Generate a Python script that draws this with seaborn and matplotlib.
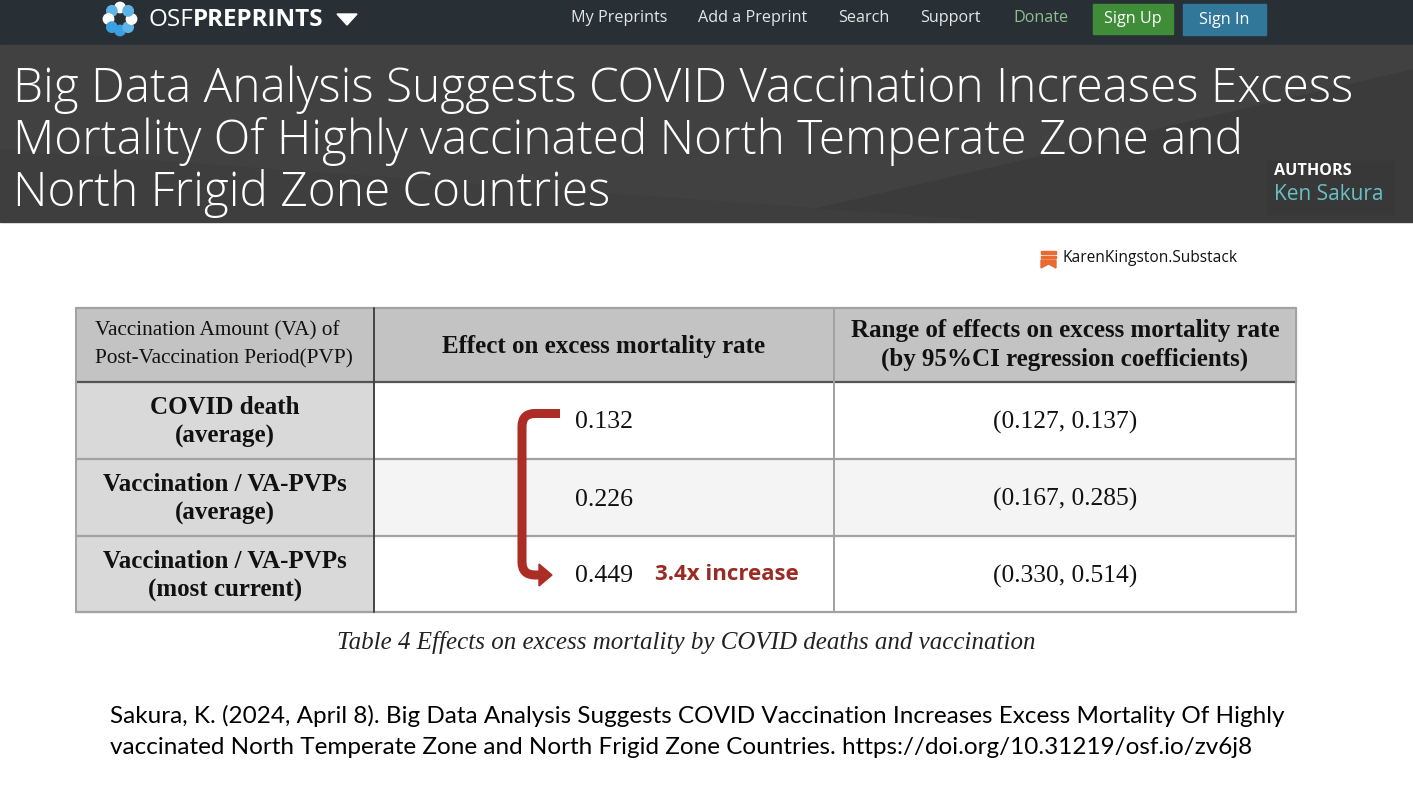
import matplotlib
matplotlib.use("Agg")
import matplotlib.pyplot as plt
import seaborn as sns
import numpy as np
from matplotlib.patches import Rectangle, Circle, Polygon, PathPatch
from matplotlib.path import Path

# ---------------- data ----------------
page_title = ["Big Data Analysis Suggests COVID Vaccination Increases Excess",
              "Mortality Of Highly vaccinated North Temperate Zone and",
              "North Frigid Zone Countries"]
nav_items = ["My Preprints", "Add a Preprint", "Search", "Support", "Donate"]
author = "Ken Sakura"
header_col1 = ["Vaccination Amount (VA) of", "Post-Vaccination Period(PVP)"]
header_col2 = ["Effect on excess mortality rate"]
header_col3 = ["Range of effects on excess mortality rate", "(by 95%CI regression coefficients)"]
row_labels = [["COVID death", "(average)"],
              ["Vaccination / VA-PVPs", "(average)"],
              ["Vaccination / VA-PVPs", "(most current)"]]
effects = [0.132, 0.226, 0.449]
ci_low = [0.127, 0.167, 0.330]
ci_high = [0.137, 0.285, 0.514]
increase_label = "3.4x increase"
caption = "Table 4 Effects on excess mortality by COVID deaths and vaccination"
citation = ["Sakura, K. (2024, April 8). Big Data Analysis Suggests COVID Vaccination Increases Excess Mortality Of Highly",
            "vaccinated North Temperate Zone and North Frigid Zone Countries. https://doi.org/10.31219/osf.io/zv6j8"]
watermark = "KarenKingston.Substack"

# ---------------- layout ----------------
sns.set_theme(style="white")
W, H = 1413, 793
fig = plt.figure(figsize=(W / 100, H / 100), dpi=100)
ax = fig.add_axes([0, 0, 1, 1])
ax.set_xlim(0, W)
ax.set_ylim(H, 0)
ax.axis("off")
sns.despine(ax=ax, left=True, bottom=True)
renderer = fig.canvas.get_renderer()

SANS = "Open Sans"
SERIF = "Liberation Serif"

# nav bar
ax.add_patch(Rectangle((0, 0), W, 45, color="#283036", zorder=1))
# header band
ax.add_patch(Rectangle((0, 45), W, 177, color="#414141", zorder=1))
ax.add_patch(Polygon([(760, 222), (1413, 70), (1413, 222)], closed=True,
                     color="#3b3b3b", zorder=1.1))
ax.add_patch(Polygon([(0, 222), (0, 150), (1000, 222)], closed=True,
                     color="#3e3e3e", zorder=1.1))

# OSF logo
cx, cy = 120, 19
for k in range(8):
    a = np.pi / 2 + k * np.pi / 4
    col = "#ffffff" if k % 2 == 0 else "#5fb3e6"
    if k in (3, 4):
        col = "#3aa0e0"
    ax.add_patch(Circle((cx + 11.5 * np.cos(a), cy - 11.5 * np.sin(a)), 5.2,
                        color=col, zorder=3))
t_osf = ax.text(148, 20, "OSF", color="white", fontsize=17.5, family=SANS,
                va="center", ha="left", zorder=4)
bb = t_osf.get_window_extent(renderer)
ax.text(148 + bb.width, 20, "PREPRINTS", color="white", fontsize=17.5, family=SANS,
        fontweight="bold", va="center", ha="left", zorder=4)
ax.add_patch(Polygon([(337, 14), (357, 14), (347, 25)], closed=True,
                     color="white", zorder=4))

nav_x = [571, 698, 838, 920, 1013]
for x, t in zip(nav_x, nav_items):
    ax.text(x, 18, t, color="#8fbf8f" if t == "Donate" else "#e6e6e6",
            fontsize=11.6, family=SANS, va="center", ha="left", zorder=4)

ax.add_patch(Rectangle((1093, 4), 80, 30, color="#3f8d39", zorder=3))
ax.text(1133, 19, "Sign Up", color="white", fontsize=11.6, family=SANS,
        va="center", ha="center", zorder=4)
ax.add_patch(Rectangle((1183, 4), 83, 31, color="#30779a", zorder=3))
ax.text(1224.5, 19.5, "Sign In", color="white", fontsize=11.6, family=SANS,
        va="center", ha="center", zorder=4)

# title
for i, line in enumerate(page_title):
    ax.text(13, 90 + 52 * i, line, color="white", fontsize=34.4, family=SANS,
            fontweight="light", va="center", ha="left", zorder=4)

# authors box
ax.add_patch(Rectangle((1267, 161), 126, 53, color="#383838", zorder=3))
ax.text(1274, 171, "AUTHORS", color="white", fontsize=11.6, family=SANS,
        fontweight="bold", va="center", ha="left", zorder=4)
ax.text(1274, 195, author, color="#69bfc6", fontsize=15, family=SANS,
        va="center", ha="left", zorder=4)

# substack watermark
ax.add_patch(Rectangle((1041, 251), 15, 2.6, color="#ea6a31", zorder=3))
ax.add_patch(Rectangle((1041, 255.5), 15, 2.6, color="#ea6a31", zorder=3))
ax.add_patch(Polygon([(1041, 260), (1056, 260), (1056, 268), (1048.5, 264),
                      (1041, 268)], closed=True, color="#ea6a31", zorder=3))
ax.text(1062, 258, watermark, color="#111111", fontsize=11.2, family=SANS,
        va="center", ha="left", zorder=4)

# ---------------- table ----------------
col_edges = [76, 374, 834, 1296]
row_edges = [308, 382, 459, 536, 612]
n = len(effects)

ax.add_patch(Rectangle((col_edges[0], row_edges[0]), col_edges[3] - col_edges[0],
                       row_edges[1] - row_edges[0], color="#c3c3c3", zorder=2))
for r in range(n):
    y0, y1 = row_edges[r + 1], row_edges[r + 2]
    ax.add_patch(Rectangle((col_edges[0], y0), col_edges[1] - col_edges[0], y1 - y0,
                           color="#d9d9d9", zorder=2))
    ax.add_patch(Rectangle((col_edges[1], y0), col_edges[3] - col_edges[1], y1 - y0,
                           color="#f4f4f4" if r == 1 else "#ffffff", zorder=2))

lc = "#a2a2a2"
ax.plot([col_edges[0], col_edges[3]], [row_edges[0]] * 2, color=lc, lw=1.6, zorder=3)
ax.plot([col_edges[0], col_edges[3]], [row_edges[1]] * 2, color="#555555", lw=1.6, zorder=3)
for ye in row_edges[2:]:
    ax.plot([col_edges[0], col_edges[3]], [ye] * 2, color=lc, lw=1.6, zorder=3)
ax.plot([col_edges[0]] * 2, [row_edges[0], row_edges[-1]], color=lc, lw=1.4, zorder=3)
ax.plot([col_edges[1]] * 2, [row_edges[0], row_edges[-1]], color="#444444", lw=1.4, zorder=3)
ax.plot([col_edges[2]] * 2, [row_edges[0], row_edges[-1]], color=lc, lw=1.4, zorder=3)
ax.plot([col_edges[3]] * 2, [row_edges[0], row_edges[-1]], color=lc, lw=1.4, zorder=3)

tc = "#111111"
hy = (row_edges[0] + row_edges[1]) / 2
ax.text(95, hy - 14, header_col1[0], fontsize=15.3, family=SERIF, color=tc,
        ha="left", va="center", zorder=4)
ax.text(95, hy + 14, header_col1[1], fontsize=15.3, family=SERIF, color=tc,
        ha="left", va="center", zorder=4)
ax.text((col_edges[1] + col_edges[2]) / 2, hy + 1, header_col2[0], fontsize=18,
        family=SERIF, fontweight="bold", color=tc, ha="center", va="center", zorder=4)
c3 = (col_edges[2] + col_edges[3]) / 2
ax.text(c3, hy - 14, header_col3[0], fontsize=18, family=SERIF, fontweight="bold",
        color=tc, ha="center", va="center", zorder=4)
ax.text(c3, hy + 14, header_col3[1], fontsize=18, family=SERIF, fontweight="bold",
        color=tc, ha="center", va="center", zorder=4)

row_c = [(row_edges[r + 1] + row_edges[r + 2]) / 2 for r in range(n)]
c1 = (col_edges[0] + col_edges[1]) / 2
for r in range(n):
    ax.text(c1, row_c[r] - 13, row_labels[r][0], fontsize=18, family=SERIF,
            fontweight="bold", color=tc, ha="center", va="center", zorder=4)
    ax.text(c1, row_c[r] + 16, row_labels[r][1], fontsize=18, family=SERIF,
            fontweight="bold", color=tc, ha="center", va="center", zorder=4)
    ax.text(575, row_c[r] + 2, f"{effects[r]:.3f}", fontsize=18.6, family=SERIF,
            color=tc, ha="left", va="center", zorder=4)
    ax.text(c3, row_c[r] + 2, f"({ci_low[r]:.3f}, {ci_high[r]:.3f})", fontsize=18.4,
            family=SERIF, color=tc, ha="center", va="center", zorder=4)

ax.text(655, row_c[-1] + 1, increase_label, fontsize=16, family=SANS,
        fontweight="bold", color="#9a2a22", ha="left", va="center", zorder=4)

# bracket arrow from first to last effect
red = "#ac2c26"
ytop, ybot = row_c[0] - 7, row_c[-1] + 1
xv, rad = 522, 13
verts = [(560, ytop), (xv + rad, ytop), (xv, ytop), (xv, ytop + rad),
         (xv, ybot - rad), (xv, ybot), (xv + rad, ybot), (541, ybot)]
codes = [Path.MOVETO, Path.LINETO, Path.CURVE3, Path.CURVE3,
         Path.LINETO, Path.CURVE3, Path.CURVE3, Path.LINETO]
ax.add_patch(PathPatch(Path(verts, codes), fill=False, edgecolor=red, lw=6.5,
                       capstyle="butt", joinstyle="round", zorder=5))
ax.add_patch(Polygon([(539, ybot - 11), (552, ybot), (539, ybot + 11)], closed=True,
                     color=red, zorder=5))

# caption and citation
ax.text(686, 642, caption, fontsize=18, family=SERIF, style="italic",
        color="#222222", ha="center", va="center", zorder=4)
ax.text(110, 716, citation[0], fontsize=17.5, family="Lato", color="#000000",
        ha="left", va="center", zorder=4)
ax.text(110, 748, citation[1], fontsize=17.5, family="Lato", color="#000000",
        ha="left", va="center", zorder=4)

fig.savefig("out.png", dpi=100)
